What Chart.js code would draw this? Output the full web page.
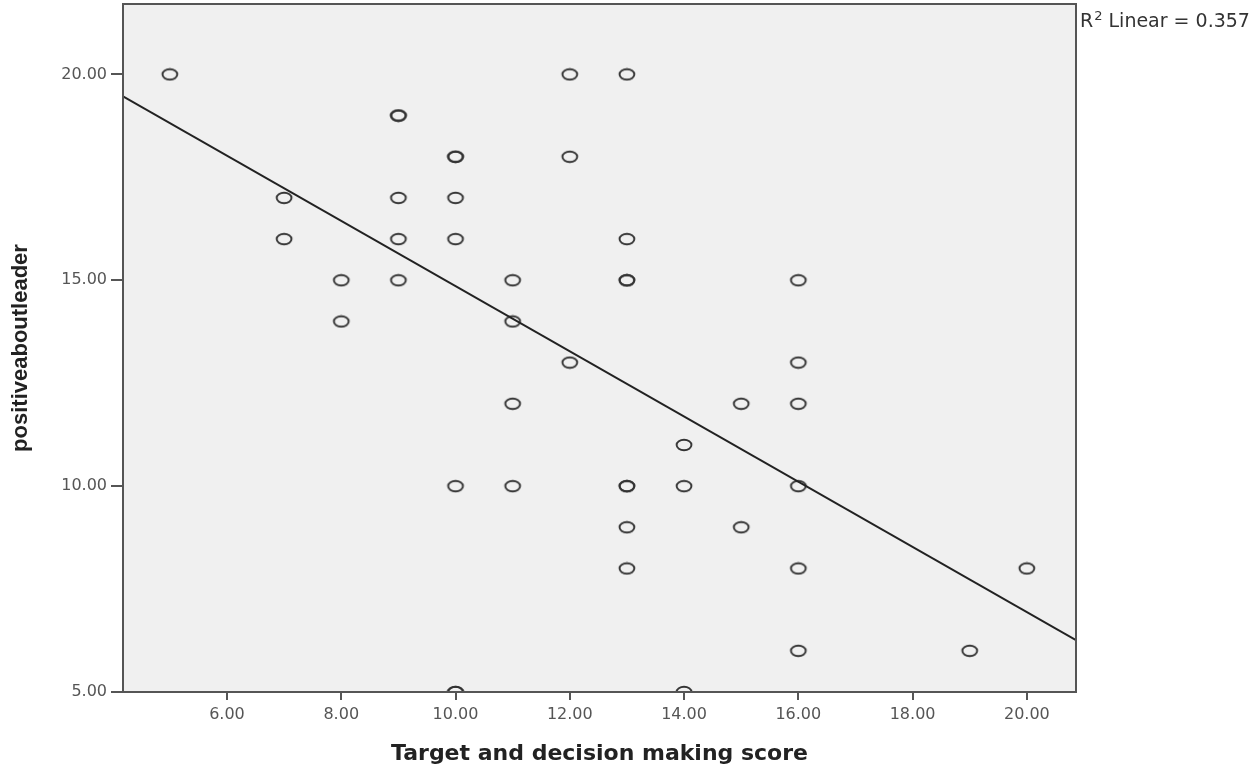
<!DOCTYPE html>
<html>
<head>
<meta charset="utf-8">
<script src="https://cdn.jsdelivr.net/npm/chart.js@4"></script>
<style>body{margin:0;background:#fff}</style>
</head>
<body>
<canvas id="myChart" width="1251" height="771"></canvas>
<script>
(function () {
// scores (repeated pairs are overlapping cases)
var targetScore = [5, 7, 7, 8, 8, 9, 9, 9, 9, 9, 10, 10, 10, 10, 10, 10, 10,
  11, 11, 11, 11, 12, 12, 12, 13, 13, 13, 13, 13, 13, 13, 13,
  14, 14, 14, 15, 15, 16, 16, 16, 16, 16, 16, 19, 20];
var positiveLeader = [20, 17, 16, 15, 14, 19, 19, 17, 16, 15, 18, 18, 17, 16, 10, 5, 5,
  15, 14, 12, 10, 20, 18, 13, 20, 16, 15, 15, 10, 10, 9, 8,
  11, 10, 5, 12, 9, 15, 13, 12, 10, 8, 6, 6, 8];
var xTicks = [6, 8, 10, 12, 14, 16, 18, 20];
var yTicks = [5, 10, 15, 20];
var xRange = [4.18, 20.86];
var yRange = [5, 21.71];
var fitLine = [22.78, -0.792]; // intercept, slope
var rSquared = '0.357';

var points = targetScore.map(function (x, i) { return {x: x, y: positiveLeader[i]}; });
var linePts = xRange.map(function (x) { return {x: x, y: fitLine[0] + fitLine[1] * x}; });

// hollow oval marker
var marker = document.createElement('canvas');
marker.width = 20; marker.height = 14;
var m = marker.getContext('2d');
m.strokeStyle = '#333';
m.lineWidth = 1.9;
m.beginPath();
m.ellipse(10, 7, 7.4, 5.2, 0, 0, Math.PI * 2);
m.stroke();

var plotFrame = {
  id: 'plotFrame',
  beforeDraw: function (chart) {
    var a = chart.chartArea, c = chart.ctx;
    c.save();
    c.fillStyle = '#f0f0f0';
    c.fillRect(a.left, a.top, a.right - a.left, a.bottom - a.top);
    c.restore();
  },
  afterDraw: function (chart) {
    var a = chart.chartArea, c = chart.ctx;
    c.save();
    c.strokeStyle = '#555';
    c.lineWidth = 2;
    c.strokeRect(a.left, a.top, a.right - a.left, a.bottom - a.top);
    c.fillStyle = '#333';
    c.textBaseline = 'alphabetic';
    c.font = '19px "DejaVu Sans"';
    var x = a.right + 4, y = 27;
    c.fillText('R', x, y);
    x += c.measureText('R').width + 1;
    c.font = '13px "DejaVu Sans"';
    c.fillText('2', x, y - 7);
    x += c.measureText('2').width;
    c.font = '19px "DejaVu Sans"';
    c.fillText(' Linear = ' + rSquared, x, y);
    c.restore();
  }
};

var ctx = document.getElementById('myChart');
var myChart = new Chart(ctx, {
  type: 'scatter',
  data: {
    datasets: [{
      type: 'line',
      data: linePts,
      borderColor: '#222',
      borderWidth: 2,
      pointRadius: 0,
      order: 0
    }, {
      data: points,
      pointStyle: marker,
      pointRadius: 8,
      order: 1
    }]
  },
  options: {
    responsive: false,
    animation: false,
    layout: { autoPadding: false, padding: { top: 4, right: 175, left: 0, bottom: 0 } },
    plugins: { legend: { display: false }, tooltip: { enabled: false } },
    scales: {
      x: {
        type: 'linear',
        min: xRange[0],
        max: xRange[1],
        afterBuildTicks: function (s) { s.ticks = xTicks.map(function (v) { return {value: v}; }); },
        afterFit: function (s) { s.height = 79; s.paddingLeft = 0; s.paddingRight = 0; },
        border: { display: false },
        grid: { drawOnChartArea: false, drawTicks: true, tickLength: 8, color: '#555', lineWidth: 2 },
        ticks: {
          color: '#555',
          padding: 5,
          maxRotation: 0,
          font: { family: 'DejaVu Sans', size: 16 },
          callback: function (v) { return Number(v).toFixed(2); }
        },
        title: {
          display: true,
          text: 'Target and decision making score',
          color: '#222',
          font: { family: 'DejaVu Sans', size: 22, weight: 'bold' },
          padding: { top: 0, bottom: 4 }
        }
      },
      y: {
        min: yRange[0],
        max: yRange[1],
        afterBuildTicks: function (s) { s.ticks = yTicks.map(function (v) { return {value: v}; }); },
        afterFit: function (s) { s.width = 123; s.paddingTop = 0; s.paddingBottom = 0; },
        border: { display: false },
        grid: { drawOnChartArea: false, drawTicks: true, tickLength: 12, color: '#555', lineWidth: 2 },
        ticks: {
          color: '#555',
          padding: 4,
          font: { family: 'DejaVu Sans', size: 16 },
          callback: function (v) { return Number(v).toFixed(2); }
        },
        title: {
          display: true,
          text: 'positiveaboutleader',
          color: '#222',
          font: { family: 'Liberation Sans', size: 22, weight: 'bold' },
          padding: { top: 8, bottom: 0 }
        }
      }
    }
  },
  plugins: [plotFrame]
});
})();
</script>
</body>
</html>
